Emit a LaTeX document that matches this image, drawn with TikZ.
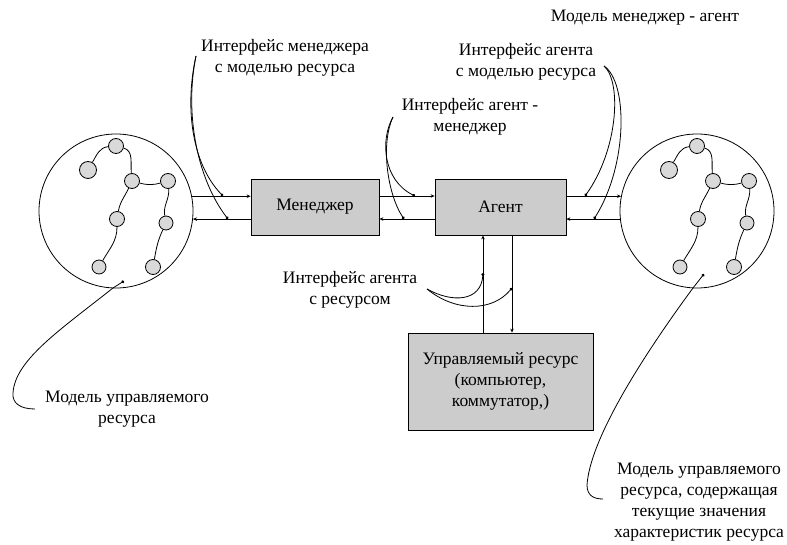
\documentclass[tikz,border=0pt]{standalone}
\usepackage{fontspec}
\setmainfont{Liberation Serif}
\usetikzlibrary{arrows.meta}
\tikzset{
  every picture/.style={line width=0.8pt},
  box/.style={draw, fill=black!20, inner sep=0pt, font=\fontsize{17.5}{21}\selectfont},
  lbl/.style={align=center, inner sep=0pt, font=\fontsize{17.5}{21}\selectfont},
  mnode/.style={draw, circle, fill=black!15, minimum size=15pt, inner sep=0pt},
  bigc/.style={draw, circle, minimum size=154pt, inner sep=0pt},
  arr/.style={-{Stealth[length=4pt,width=3.5pt]}},
  lead/.style={-{Circle[length=3pt]}},
}
\newcommand\netmodel[3]{%
  \begin{scope}[shift={(#2,#3)}]
    \node[mnode] (#1na) at (0,-65) {};
    \node[mnode, minimum size=17pt] (#1nb) at (-28,-41) {};
    \node[mnode] (#1nc) at (16,-30) {};
    \node[mnode] (#1nd) at (52,-30) {};
    \node[mnode] (#1ne) at (1,8) {};
    \node[mnode, minimum size=14pt] (#1nf) at (50,12) {};
    \node[mnode, minimum size=14pt] (#1ng) at (-17,56) {};
    \node[mnode] (#1nh) at (37,56) {};
    \draw (#1nb) to[out=60,in=185] (#1na);
    \draw (#1na) to[out=-15,in=95] (#1nc);
    \draw (#1nc) to[out=-15,in=-165] (#1nd);
    \draw (#1nc) to[out=-115,in=80] (#1ne);
    \draw (#1nd) to[out=-85,in=100] (#1nf);
    \draw (#1ne) to[out=-90,in=60] (#1ng);
    \draw (#1nf) to[out=-115,in=80] (#1nh);
  \end{scope}}
\begin{document}
\begin{tikzpicture}[x=1pt,y=-1pt]
\useasboundingbox (0,0) rectangle (787,545);
% big circles
\node[bigc] (bigL) at (116,211) {};
\node[bigc] (bigR) at (697,211) {};
\netmodel{l}{116}{211}
\netmodel{r}{697}{211}
% boxes
\node[box, minimum width=128pt, minimum height=56pt] (man) at (315,207) {Менеджер};
\node[box, minimum width=131pt, minimum height=56pt] (ag) at (500.5,207) {Агент};
\node[box, minimum width=185pt, minimum height=97pt, align=center] (res) at (500.5,381.5)
  {Управляемый ресурс\\(компьютер,\\коммутатор,)};
% arrows
\draw[arr] (bigL.11) -- (bigL.11 -| man.west);
\draw[arr] (man.west |- bigL.-6) -- (bigL.-6);
\draw[arr] ([yshift=11pt]man.east) -- ([yshift=11pt]ag.west);
\draw[arr] ([yshift=-12pt]ag.west) -- ([yshift=-12pt]man.east);
\draw[arr] (ag.east |- bigR.169) -- (bigR.169);
\draw[arr] (bigR.186) -- (bigR.186 -| ag.east);
\draw[arr] ([xshift=-17.5pt]res.north) -- ([xshift=-17.5pt]ag.south);
\draw[arr] ([xshift=11.5pt]ag.south) -- ([xshift=11.5pt]res.north);
% labels
\node[lbl] (t1) at (285,57.5) {Интерфейс менеджера\\с моделью ресурса};
\node[lbl] (t2) at (470,117) {Интерфейс агент -\\менеджер};
\node[lbl] (t3) at (526,62) {Интерфейс агента\\с моделью ресурса};
\node[lbl] (t4) at (645,18) {Модель менеджер - агент};
\node[lbl] (t5) at (350,289.5) {Интерфейс агента\\с ресурсом};
\node[lbl] (t6) at (127,409) {Модель управляемого\\ресурса};
\node[lbl] (t7) at (699,502.5) {Модель управляемого\\ресурса, содержащая\\текущие значения\\характеристик ресурса};
% leaders
\coordinate (p1) at (196,56);
\coordinate (p1a) at (223,196);
\coordinate (p1b) at (228,219);
\draw[lead] (p1) .. controls (184,110) and (193,165) .. (p1a);
\draw[lead] (p1) .. controls (184,115) and (198,180) .. (p1b);
\coordinate (p2) at (393,117);
\coordinate (p2a) at (415,196);
\coordinate (p2b) at (404,219);
\draw[lead] (p2) .. controls (380,140) and (383,180) .. (p2a);
\draw[lead] (p2) .. controls (380,145) and (388,195) .. (p2b);
\coordinate (p3) at (604,66);
\coordinate (p3a) at (585,196);
\coordinate (p3b) at (594,219);
\draw[lead] (p3) .. controls (622,82) and (618,150) .. (p3a);
\draw[lead] (p3) .. controls (628,82) and (628,165) .. (p3b);
\coordinate (p4) at (427,289);
\coordinate (p4a) at (483,273);
\coordinate (p4b) at (512,288);
\draw[lead] (p4) .. controls (452,303) and (481,302) .. (p4a);
\draw[lead] (p4) .. controls (455,312) and (492,312) .. (p4b);
\coordinate (p5) at (35,409);
\coordinate (p5a) at (124,281);
\draw[lead] (p5) .. controls (20,409) and (12,403) .. (13,393) .. controls (15,360) and (60,330) .. (113,288) -- (p5a);
\coordinate (p6) at (603,499);
\coordinate (p6a) at (704,274);
\draw[lead] (p6) .. controls (593,499) and (587,495) .. (587,485) .. controls (590,440) and (640,360) .. (693,288) -- (p6a);
\end{tikzpicture}
\end{document}
